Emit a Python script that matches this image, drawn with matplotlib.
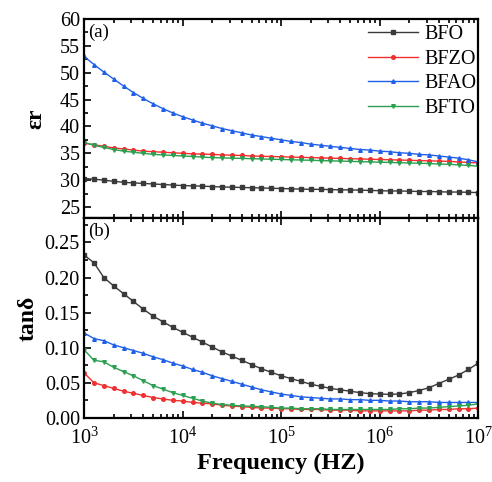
import numpy as np
import matplotlib
matplotlib.use("Agg")
import matplotlib.pyplot as plt
from matplotlib.ticker import MultipleLocator, LogLocator, NullFormatter, FormatStrFormatter

plt.rcParams['font.family'] = ['Liberation Serif', 'DejaVu Serif']
plt.rcParams['mathtext.fontset'] = 'stix'

# frequency grid (Hz), 10 points per decade
freq = np.logspace(3, 7, 41)

labels = ["BFO", "BFZO", "BFAO", "BFTO"]
colors = ["#3a3a3a", "#f03030", "#2060e8", "#2aa050"]
markers = ["s", "o", "^", "v"]

# dielectric constant
er_bfo = [30.3, 30.2, 30.0, 29.8, 29.6, 29.5, 29.4, 29.3, 29.2, 29.1,
          29.0, 28.95, 28.9, 28.8, 28.75, 28.7, 28.65, 28.6, 28.55, 28.5,
          28.45, 28.4, 28.35, 28.3, 28.3, 28.25, 28.2, 28.2, 28.15, 28.1,
          28.05, 28.0, 28.0, 27.95, 27.9, 27.9, 27.85, 27.8, 27.8, 27.75, 27.7]
er_bfzo = [36.9, 36.6, 36.3, 36.0, 35.8, 35.6, 35.4, 35.3, 35.2, 35.1,
           35.0, 34.9, 34.85, 34.8, 34.7, 34.65, 34.6, 34.5, 34.45, 34.4,
           34.35, 34.3, 34.25, 34.2, 34.15, 34.1, 34.05, 34.0, 33.95, 33.9,
           33.85, 33.8, 33.75, 33.7, 33.65, 33.6, 33.55, 33.5, 33.4, 33.3, 33.2]
er_bfao = [53.0, 51.5, 50.1, 48.8, 47.5, 46.3, 45.2, 44.2, 43.3, 42.5,
           41.8, 41.2, 40.6, 40.1, 39.6, 39.2, 38.8, 38.4, 38.1, 37.8,
           37.5, 37.2, 37.0, 36.7, 36.5, 36.3, 36.1, 35.9, 35.7, 35.6,
           35.4, 35.3, 35.1, 35.0, 34.8, 34.7, 34.5, 34.3, 34.1, 33.8, 33.4]
er_bfto = [37.0, 36.5, 36.1, 35.7, 35.4, 35.2, 35.0, 34.8, 34.7, 34.6,
           34.5, 34.4, 34.3, 34.2, 34.15, 34.1, 34.05, 34.0, 33.95, 33.9,
           33.85, 33.8, 33.75, 33.7, 33.65, 33.6, 33.55, 33.5, 33.45, 33.4,
           33.35, 33.3, 33.25, 33.2, 33.15, 33.1, 33.0, 32.95, 32.85, 32.75, 32.6]

# loss tangent
tan_bfo = [0.232, 0.221, 0.200, 0.188, 0.177, 0.166, 0.155, 0.145, 0.137, 0.129,
           0.122, 0.115, 0.108, 0.101, 0.094, 0.088, 0.082, 0.076, 0.070, 0.065,
           0.060, 0.056, 0.052, 0.048, 0.045, 0.042, 0.040, 0.038, 0.036, 0.0345,
           0.034, 0.0336, 0.034, 0.036, 0.039, 0.043, 0.049, 0.055, 0.061, 0.069, 0.078]
tan_bfzo = [0.064, 0.050, 0.046, 0.042, 0.038, 0.035, 0.032, 0.029, 0.027, 0.025,
            0.024, 0.022, 0.021, 0.020, 0.018, 0.017, 0.016, 0.015, 0.014, 0.014,
            0.013, 0.013, 0.012, 0.012, 0.012, 0.011, 0.011, 0.011, 0.010, 0.010,
            0.010, 0.010, 0.010, 0.010, 0.011, 0.011, 0.012, 0.012, 0.013, 0.013, 0.014]
tan_bfao = [0.121, 0.113, 0.110, 0.104, 0.100, 0.096, 0.092, 0.087, 0.083, 0.078,
            0.074, 0.069, 0.065, 0.060, 0.056, 0.052, 0.048, 0.044, 0.040, 0.037,
            0.034, 0.032, 0.030, 0.029, 0.028, 0.027, 0.027, 0.026, 0.026, 0.025,
            0.025, 0.024, 0.024, 0.023, 0.023, 0.023, 0.022, 0.022, 0.022, 0.022, 0.022]
tan_bfto = [0.097, 0.082, 0.080, 0.072, 0.066, 0.060, 0.053, 0.046, 0.041, 0.036,
            0.032, 0.028, 0.024, 0.021, 0.019, 0.018, 0.017, 0.0165, 0.016, 0.015,
            0.014, 0.014, 0.013, 0.013, 0.013, 0.012, 0.012, 0.012, 0.012, 0.012,
            0.012, 0.012, 0.013, 0.013, 0.014, 0.014, 0.015, 0.016, 0.017, 0.018, 0.020]

er_data = [er_bfo, er_bfzo, er_bfao, er_bfto]
tan_data = [tan_bfo, tan_bfzo, tan_bfao, tan_bfto]

fig = plt.figure(figsize=(4.92, 4.82), dpi=100)
ax1 = fig.add_axes([0.171, 0.548, 0.801, 0.413])
ax2 = fig.add_axes([0.171, 0.133, 0.801, 0.415], sharex=ax1)

for ys, c, m, lab in zip(er_data, colors, markers, labels):
    ax1.plot(freq, ys, color=c, marker=m, markersize=2.6, linewidth=1.0, label=lab)
for ys, c, m in zip(tan_data, colors, markers):
    ax2.plot(freq, ys, color=c, marker=m, markersize=2.6, linewidth=1.0)

ax1.set_xscale('log')
ax1.set_xlim(1e3, 1e7)
ax1.set_ylim(23, 60)
ax1.yaxis.set_major_locator(MultipleLocator(5))
ax1.yaxis.set_minor_locator(MultipleLocator(2.5))
ax2.set_ylim(0, 0.285)
ax2.yaxis.set_major_locator(MultipleLocator(0.05))
ax2.yaxis.set_minor_locator(MultipleLocator(0.025))
ax2.yaxis.set_major_formatter(FormatStrFormatter('%.2f'))
ax2.xaxis.set_major_locator(LogLocator(base=10, numticks=10))
ax2.xaxis.set_minor_locator(LogLocator(base=10, subs=np.arange(2, 10), numticks=10))
ax2.xaxis.set_minor_formatter(NullFormatter())

for ax in (ax1, ax2):
    for sp in ax.spines.values():
        sp.set_linewidth(1.6)
    ax.tick_params(which='both', direction='in', top=True, right=False,
                   labelsize=14.5, width=1.2)
    ax.tick_params(axis='y', pad=3)
    ax.tick_params(axis='x', pad=7)
    ax.tick_params(which='major', length=5)
    ax.tick_params(which='minor', length=3)
plt.setp(ax1.get_xticklabels(), visible=False)

ax1.set_ylabel("εr", fontsize=17, fontweight='bold', labelpad=10)
ax2.set_ylabel("tanδ", fontsize=17, fontweight='bold', labelpad=4)
ax2.set_xlabel("Frequency (HZ)", fontsize=17.5, fontweight='bold', labelpad=3)

ax1.text(0.01, 0.975, "(a)", transform=ax1.transAxes, fontsize=13.5, va='top')
ax2.text(0.01, 0.975, "(b)", transform=ax2.transAxes, fontsize=13.5, va='top')

ax1.legend(loc='upper right', frameon=False, fontsize=14.5, handlelength=2.5,
           borderaxespad=0.0, borderpad=0.3, labelspacing=0.28, handletextpad=0.3,
           bbox_to_anchor=(1.01, 1.0))

fig.savefig("out.png", dpi=100)
